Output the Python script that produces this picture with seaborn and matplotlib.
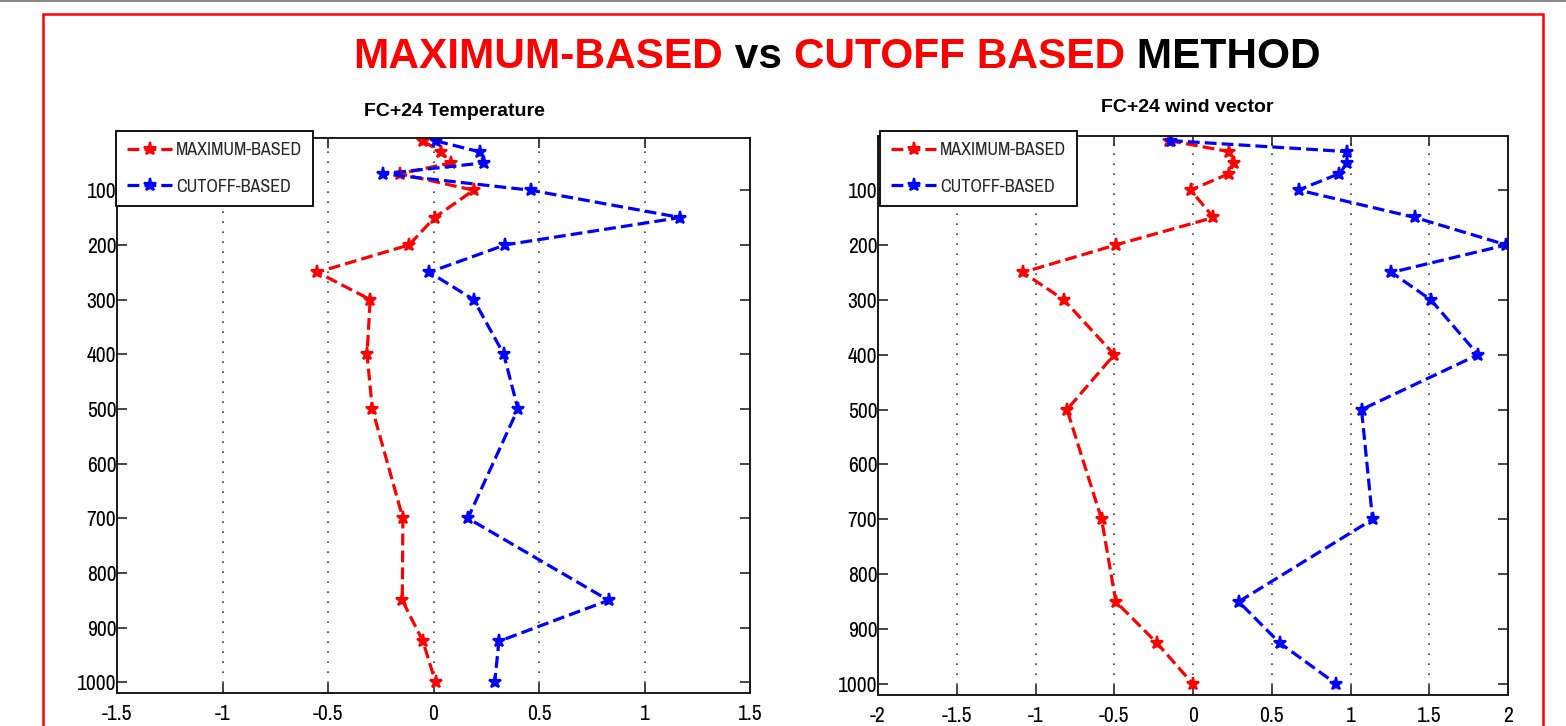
import numpy as np
import pandas as pd
import matplotlib
matplotlib.use("Agg")
import matplotlib.pyplot as plt
import matplotlib.patches as mpatches
from matplotlib.lines import Line2D
from matplotlib import font_manager as fm
import seaborn as sns

# ---------------- data ----------------
levels = [10, 30, 50, 70, 100, 150, 200, 250, 300, 400, 500, 700, 850, 925, 1000]

temp_max = [-0.05, 0.035, 0.085, -0.16, 0.19, 0.005, -0.115, -0.55, -0.30,
            -0.315, -0.29, -0.145, -0.148, -0.05, 0.01]
temp_cut = [0.013, 0.22, 0.24, -0.24, 0.46, 1.17, 0.34, -0.02, 0.19,
            0.333, 0.40, 0.163, 0.83, 0.31, 0.29]

wind_max = [-0.15, 0.23, 0.26, 0.23, -0.015, 0.13, -0.49, -1.08, -0.82,
            -0.50, -0.80, -0.58, -0.49, -0.23, 0.0]
wind_cut = [-0.14, 0.98, 0.98, 0.93, 0.67, 1.41, 1.99, 1.26, 1.51,
            1.81, 1.07, 1.14, 0.29, 0.55, 0.91]

series_names = ["MAXIMUM-BASED", "CUTOFF-BASED"]
series_colors = ["#ff0000", "#0000ff"]

temp_xticks = [-1.5, -1, -0.5, 0, 0.5, 1, 1.5]
temp_xticklabels = ["-1.5", "-1", "-0.5", "0", "0.5", "1", "1.5"]
wind_xticks = [-2, -1.5, -1, -0.5, 0, 0.5, 1, 1.5, 2]
wind_xticklabels = ["-2", "-1.5", "-1", "-0.5", "0", "0.5", "1", "1.5", "2"]
yticks = [100, 200, 300, 400, 500, 600, 700, 800, 900, 1000]

main_title_parts = [("MAXIMUM-BASED", "#ff0000"), (" vs ", "black"),
                    ("CUTOFF BASED", "#ff0000"), (" METHOD", "black")]
subtitles = ["FC+24 Temperature", "FC+24 wind vector"]

# ---------------- style ----------------
sns.set_theme(style="white")

# look for the narrowest face among installed fonts (narrow > condensed)
def _is_regular(f):
    return f.weight in (400, "normal", "regular") and f.style == "normal"

narrow_entry = None
for f in fm.fontManager.ttflist:
    if "narrow" in f.name.lower() and _is_regular(f):
        narrow_entry = f
        break
if narrow_entry is None:
    for f in fm.fontManager.ttflist:
        if ("condensed" in f.name.lower() or str(f.stretch) in
                {"condensed", "semi-condensed", "extra-condensed", "ultra-condensed"}) \
                and _is_regular(f):
            narrow_entry = f
            break

if narrow_entry is not None:
    TICK_FP = dict(family=[narrow_entry.name, "DejaVu Sans"], stretch=narrow_entry.stretch)
    tick_size, leg_size = 15.5, 13
else:
    TICK_FP = dict(family=["Liberation Sans", "DejaVu Sans"], stretch="normal")
    tick_size, leg_size = 13, 11.5

plt.rcParams["font.family"] = TICK_FP["family"]
plt.rcParams["font.stretch"] = TICK_FP["stretch"]

W, H = 1566, 726
fig = plt.figure(figsize=(W / 100, H / 100), dpi=100)
fig.patch.set_facecolor("white")


def fx(px):
    return px / W


def fy(py):
    return 1 - py / H


panels = [
    dict(rect=[fx(117), fy(692.7), fx(750) - fx(117), fy(137.7) - fy(692.7)],
         xlim=(-1.5, 1.5), ylim=(1019, 4), xt=temp_xticks, xtl=temp_xticklabels,
         data=(temp_max, temp_cut), title=subtitles[0], tpos=(454.5, 112),
         leg=(116, 130.7)),
    dict(rect=[fx(878), fy(695), fx(1508) - fx(878), fy(135.7) - fy(695)],
         xlim=(-2, 2), ylim=(1020, 1), xt=wind_xticks, xtl=wind_xticklabels,
         data=(wind_max, wind_cut), title=subtitles[1], tpos=(1187.5, 108),
         leg=(880, 130.7)),
]

for p in panels:
    ax = fig.add_axes(p["rect"])
    frames = []
    for name, vals in zip(series_names, p["data"]):
        frames.append(pd.DataFrame({"value": vals, "pressure": levels, "method": name}))
    df = pd.concat(frames, ignore_index=True)
    for name, col in zip(series_names, series_colors):
        sub = df[df["method"] == name]
        sns.lineplot(data=sub, x="value", y="pressure", sort=False, estimator=None,
                     ax=ax, color=col, linestyle="--", linewidth=2.3,
                     marker="*", markersize=9.5, markeredgewidth=1.6,
                     markeredgecolor=col, label=name)
    ax.set_xlim(*p["xlim"])
    ax.set_ylim(*p["ylim"])
    ax.set_xticks(p["xt"])
    ax.set_xticklabels(p["xtl"])
    ax.set_yticks(yticks)
    ax.set_yticklabels([str(v) for v in yticks])
    ax.set_xlabel("")
    ax.set_ylabel("")
    for xv in p["xt"]:
        ax.axvline(xv, color="0.25", linestyle=(0, (1, 5)), linewidth=1.2, zorder=0)
    ax.tick_params(direction="in", length=7, width=1.2, colors="0.15",
                   top=True, right=True, bottom=True, left=True,
                   labelsize=tick_size)
    ax.tick_params(axis="x", pad=8)
    ax.tick_params(axis="y", pad=0.5)
    for lab in ax.get_xticklabels() + ax.get_yticklabels():
        lab.set_color("black")
    for s in ax.spines.values():
        s.set_color("0.1")
        s.set_linewidth(1.4)
    ax.grid(False)
    leg = ax.legend(loc="upper left", bbox_to_anchor=(fx(p["leg"][0]), fy(p["leg"][1])),
                    bbox_transform=fig.transFigure, fancybox=False, framealpha=1,
                    edgecolor="black", fontsize=leg_size, handlelength=2.5,
                    handletextpad=0.2, labelspacing=1.15, borderpad=0.62,
                    borderaxespad=0, numpoints=1)
    leg.get_frame().set_linewidth(1.3)
    leg.set_zorder(10)
    fig.text(fx(p["tpos"][0]), fy(p["tpos"][1]), p["title"], ha="center", va="center",
             fontsize=14, fontweight="bold", color="black", stretch="normal",
             family=["Liberation Sans", "DejaVu Sans"])

# ---------------- main title (multi-colour) ----------------
renderer = fig.canvas.get_renderer()
texts = []
for s, c in main_title_parts:
    t = fig.text(0, fy(68), s, color=c, fontsize=30.5, fontweight="bold",
                 ha="left", va="baseline", stretch="normal",
                 family=["Liberation Sans", "DejaVu Sans"])
    texts.append(t)
widths = [t.get_window_extent(renderer=renderer).width for t in texts]
total = sum(widths)
start = 837 - total / 2
for t, w in zip(texts, widths):
    t.set_x(fx(start))
    start += w

# ---------------- frame decorations ----------------
fig.patches.append(mpatches.Rectangle((fx(43), -0.1), fx(1543) - fx(43), fy(14) + 0.1,
                                      transform=fig.transFigure, fill=False,
                                      edgecolor="#ff0000", linewidth=1.8, zorder=0))
fig.lines.append(Line2D([0, 1], [fy(0.6), fy(0.6)], transform=fig.transFigure,
                        color="0.45", linewidth=1.2))

fig.savefig("out.png", dpi=100, facecolor="white")
